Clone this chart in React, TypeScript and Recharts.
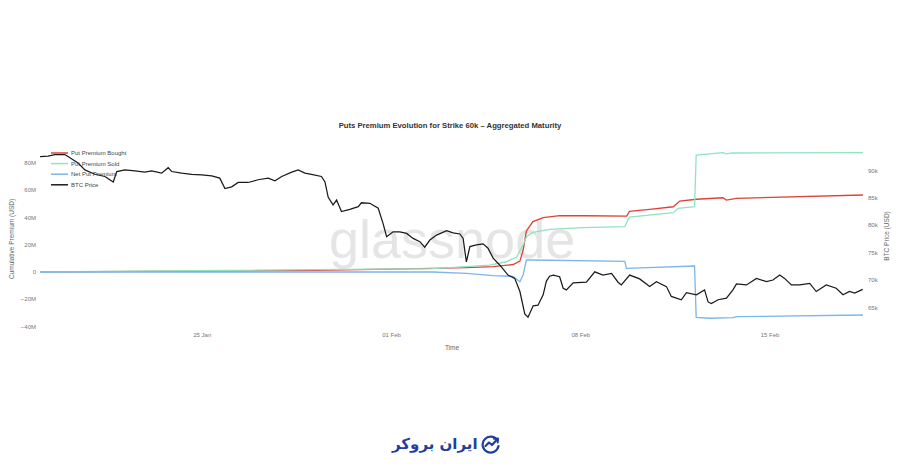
import { LineChart, Line, XAxis, YAxis } from 'recharts';

// days since 19 Jan, BTC price in k USD
const btcDays = [
  0, 0.3, 0.55, 0.92, 1.05, 1.42, 1.66, 2.03, 2.4, 2.71,
  2.84, 3.14, 3.51, 3.88, 4.13, 4.5, 4.74, 4.87, 5.24, 5.61,
  5.98, 6.35, 6.65, 6.84, 7.09, 7.33, 7.7, 8.07, 8.44, 8.69,
  8.94, 9.31, 9.55, 9.8, 10.04, 10.41, 10.54, 10.66, 10.84, 10.97,
  11.15, 11.46, 11.77, 11.89, 12.2, 12.51, 12.69, 12.82, 13.06, 13.31,
  13.56, 13.8, 14.05, 14.23, 14.42, 14.67, 15.04, 15.28, 15.53, 15.65,
  15.77, 15.9, 16.14, 16.39, 16.57, 16.76, 17.01, 17.31, 17.56, 17.75,
  17.93, 18.05, 18.24, 18.42, 18.61, 18.73, 18.85, 18.98, 19.22, 19.35,
  19.47, 19.72, 20.21, 20.52, 20.82, 21.14, 21.38, 21.5, 21.81, 22.18,
  22.55, 22.8, 23.17, 23.35, 23.72, 23.91, 24.28, 24.58, 24.71, 24.83,
  25.08, 25.39, 25.63, 25.76, 26.13, 26.5, 26.87, 27.11, 27.36, 27.54,
  27.79, 28.1, 28.47, 28.71, 29.08, 29.45, 29.7, 29.94, 30.13, 30.43,
];
const btcPrice = [
  92.5, 92.6, 92.9, 92.9, 92.5, 91.3, 90.1, 89.3, 88.9, 87.9,
  89.8, 90.1, 89.9, 89.7, 89.9, 89.5, 90.5, 89.8, 89.5, 89.3,
  89.2, 89.0, 88.6, 86.7, 87.0, 87.8, 87.8, 88.3, 88.6, 88.1,
  88.9, 89.7, 90.1, 89.5, 89.3, 88.9, 87.9, 85.1, 83.7, 84.6,
  82.5, 82.9, 83.4, 84.1, 84.0, 83.1, 80.3, 77.9, 78.8, 78.8,
  78.5, 77.6, 77.0, 76.0, 77.3, 78.2, 79.0, 78.6, 78.4, 77.6,
  73.3, 76.1, 76.4, 76.6, 75.8, 74.0, 72.7, 70.9, 70.3, 67.9,
  63.8, 63.2, 65.3, 65.4, 67.3, 69.8, 70.7, 70.9, 70.6, 68.5,
  68.2, 69.5, 69.6, 71.5, 70.9, 71.2, 69.6, 69.1, 70.9, 70.2,
  68.8, 69.7, 68.8, 67.0, 66.4, 67.7, 67.3, 68.2, 66.0, 65.7,
  66.4, 66.7, 68.2, 69.3, 69.1, 70.3, 69.7, 70.0, 70.9, 70.3,
  69.1, 69.1, 69.4, 67.9, 69.1, 68.5, 67.3, 67.9, 67.6, 68.3,
];

// cumulative premiums in M USD
const boughtDays = [0, 1.95, 9.61, 14.53, 15.77, 16.76, 17.5, 17.75, 17.87, 17.99, 18.23, 18.61, 19.22, 20.18, 21.7, 21.8, 22.55, 23.42, 23.66, 24.28, 25.26, 25.39, 25.76, 30.44];
const bought = [0, 0.3, 1.0, 2.7, 3.2, 3.9, 5.5, 8.0, 16.1, 30.0, 36.9, 39.8, 41.3, 41.2, 41.0, 44.4, 45.9, 47.8, 52.0, 53.3, 54.4, 52.7, 54.0, 56.4];

const soldDays = [0, 14.53, 15.77, 16.63, 17.25, 17.63, 17.87, 18.0, 18.24, 18.85, 20.09, 21.63, 21.74, 21.81, 23.42, 23.6, 24.21, 24.27, 25.26, 25.39, 25.6, 30.44];
const sold = [0, 2.5, 3.9, 5.1, 7.5, 11.0, 20.0, 26.0, 29.0, 31.3, 32.5, 33.2, 38.0, 40.3, 43.5, 46.7, 47.8, 85.7, 87.4, 86.6, 87.2, 87.4];

const netDays = [0, 14.53, 15.77, 16.76, 17.5, 17.75, 17.87, 17.99, 18.24, 21.63, 21.69, 24.21, 24.27, 24.76, 25.63, 25.76, 30.44];
const net = [0, 0, -1.0, -2.6, -3.2, -7.1, -2.0, 8.8, 8.8, 7.8, 2.7, 4.4, -33.2, -33.9, -33.5, -32.7, -31.5];

const dateTicks = [6, 13, 20, 27];
const dateLabels = ['25 Jan', '01 Feb', '08 Feb', '15 Feb'];
const premiumTicks = [-40, -20, 0, 20, 40, 60, 80];
const priceTicks = [65, 70, 75, 80, 85, 90];

const font = '"Liberation Sans", Arial, Helvetica, sans-serif';
const tickStyle = { fontSize: 6, fill: '#777', fontFamily: font };

const toPoints = (days: number[], vals: number[]) => days.map((d, i) => ({ d, v: vals[i] }));

const series = [
  { name: 'Put Premium Bought', color: '#db4437', axis: 'left', width: 1.3, data: toPoints(boughtDays, bought) },
  { name: 'Put Premium Sold', color: '#8fe3bf', axis: 'left', width: 1.3, data: toPoints(soldDays, sold) },
  { name: 'Net Put Premium', color: '#7db5ec', axis: 'left', width: 1.3, data: toPoints(netDays, net) },
  { name: 'BTC Price', color: '#1b1b1b', axis: 'right', width: 1.25, data: toPoints(btcDays, btcPrice) },
];

const fmtM = (v: number) => (v === 0 ? '0' : `${v < 0 ? '−' : ''}${Math.abs(v)}M`);

function BrandIcon() {
  return (
    <svg width={20} height={20} viewBox="0 0 20 20">
      <path d="M16.5 6.5 A8 8 0 1 0 17.5 12" fill="none" stroke="#1f3f9f" strokeWidth={2.2} strokeLinecap="round" />
      <path d="M4.5 12 L8 8.5 L11 11 L16 5.5" fill="none" stroke="#1f3f9f" strokeWidth={2.2} strokeLinecap="round" strokeLinejoin="round" />
      <path d="M13 4.8 L17 4.5 L16.7 8.5" fill="none" stroke="#1f3f9f" strokeWidth={2} strokeLinecap="round" strokeLinejoin="round" />
    </svg>
  );
}

export default function App() {
  return (
    <div style={{ position: 'absolute', left: 0, top: 0, width: 900, height: 471, background: '#fff', fontFamily: font }}>
      <svg width={900} height={471} style={{ position: 'absolute', left: 0, top: 0 }}>
        <text x={329} y={258} fontSize={54} fill="#e5e5e5" fontFamily={font}>glassnode</text>
        <text x={450} y={127.5} fontSize={7.7} fontWeight="bold" fill="#333" textAnchor="middle">
          Puts Premium Evolution for Strike 60k – Aggregated Maturity
        </text>
        <text transform="translate(14,239) rotate(-90)" fontSize={6.5} fill="#666" textAnchor="middle">
          Cumulative Premium (USD)
        </text>
        <text transform="translate(889,236) rotate(-90)" fontSize={6.5} fill="#666" textAnchor="middle">
          BTC Price (USD)
        </text>
        <text x={452} y={350} fontSize={6.5} fill="#666" textAnchor="middle">Time</text>
      </svg>

      <LineChart
        width={900}
        height={471}
        margin={{ top: 150, right: 0, bottom: 122, left: 0 }}
        style={{ position: 'absolute', left: 0, top: 0 }}
      >
        <XAxis
          type="number"
          dataKey="d"
          domain={[0, 30.44]}
          allowDataOverflow
          ticks={dateTicks}
          tickFormatter={(v: number) => dateLabels[dateTicks.indexOf(v)]}
          axisLine={false}
          tickLine={false}
          tickSize={0}
          tickMargin={4}
          height={20}
          tick={tickStyle}
        />
        <YAxis
          yAxisId="left"
          orientation="left"
          domain={[-41.76, 89.38]}
          allowDataOverflow
          ticks={premiumTicks}
          tickFormatter={fmtM}
          axisLine={false}
          tickLine={false}
          tickSize={0}
          tickMargin={4}
          width={40}
          tick={tickStyle}
        />
        <YAxis
          yAxisId="right"
          orientation="right"
          domain={[61.06, 93.73]}
          allowDataOverflow
          ticks={priceTicks}
          tickFormatter={(v: number) => `${v}k`}
          axisLine={false}
          tickLine={false}
          tickSize={0}
          tickMargin={5}
          width={37}
          tick={tickStyle}
        />
        {series.map((s) => (
          <Line
            key={s.name}
            yAxisId={s.axis}
            data={s.data}
            dataKey="v"
            name={s.name}
            type="linear"
            stroke={s.color}
            strokeWidth={s.width}
            dot={false}
            isAnimationActive={false}
          />
        ))}
      </LineChart>

      <svg width={900} height={471} style={{ position: 'absolute', left: 0, top: 0, pointerEvents: 'none' }}>
        {series.map((s, i) => (
          <g key={s.name}>
            <line x1={51} x2={68} y1={153 + i * 10.6} y2={153 + i * 10.6} stroke={s.color} strokeWidth={1.5} />
            <text x={71} y={155.2 + i * 10.6} fontSize={6} fill="#444">{s.name}</text>
          </g>
        ))}
      </svg>

      <div
        style={{
          position: 'absolute',
          left: 392,
          top: 434,
          display: 'flex',
          alignItems: 'center',
          gap: 3,
          direction: 'rtl',
        }}
      >
        <BrandIcon />
        <span style={{ fontFamily: '"DejaVu Sans", sans-serif', fontWeight: 'bold', fontSize: 15, color: '#1f3f9f', lineHeight: '20px' }}>
          ایران بروکر
        </span>
      </div>
    </div>
  );
}
